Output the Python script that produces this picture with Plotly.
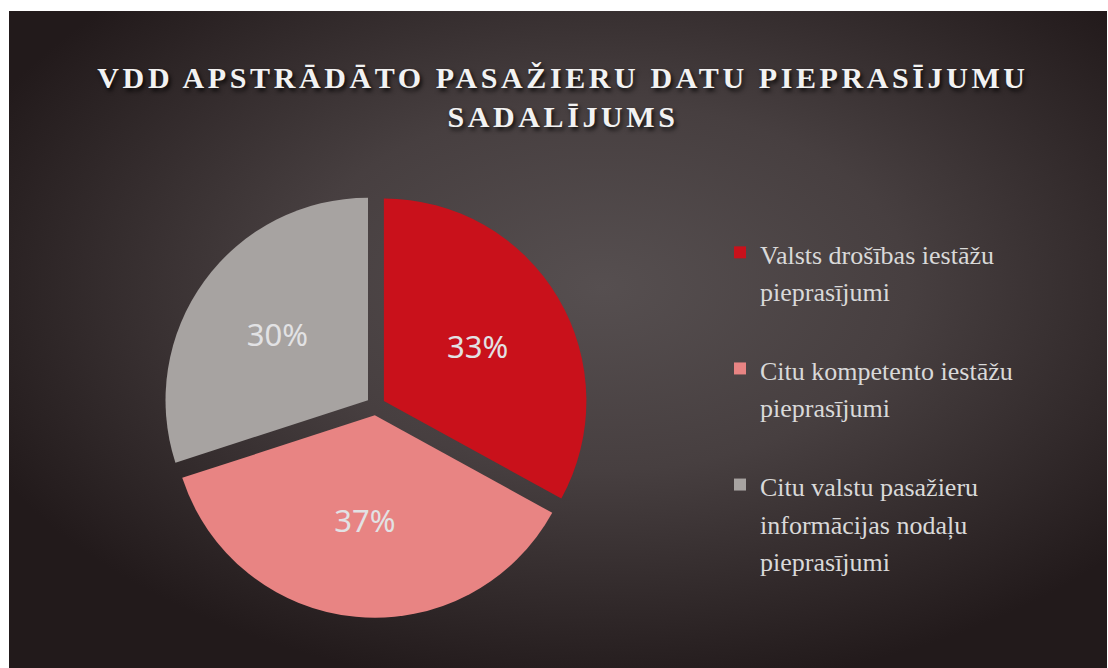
import base64
import plotly.graph_objects as go

# ---- data ----
categories = [
    "Valsts drošības iestāžu<br>pieprasījumi",
    "Citu kompetento iestāžu<br>pieprasījumi",
    "Citu valstu pasažieru<br>informācijas nodaļu<br>pieprasījumi",
]
values = [33, 37, 30]
slice_colors = ["#c9111b", "#e88483", "#a7a3a1"]
title_text = "VDD APSTRĀDĀTO PASAŽIERU DATU PIEPRASĪJUMU<br>SADALĪJUMS"

W, H = 1108, 668

# legend entries: a blank trailing line gives the gap between entries
legend_labels = [
    "<span style='font-size:26px'>" + c + "</span>" + ("<br> " if i < len(categories) - 1 else "")
    for i, c in enumerate(categories)
]

# background: radial gradient panel (styling only)
svg = (
    "<svg xmlns='http://www.w3.org/2000/svg' width='1098' height='657' "
    "viewBox='0 0 1098 657' preserveAspectRatio='none'>"
    "<defs><radialGradient id='g' cx='0.54' cy='0.42' r='0.62'>"
    "<stop offset='0' stop-color='#564f50'/>"
    "<stop offset='0.45' stop-color='#473f40'/>"
    "<stop offset='1' stop-color='#221a1b'/>"
    "</radialGradient></defs>"
    "<rect x='0' y='0' width='1098' height='657' fill='url(#g)'/></svg>"
)
bg_src = "data:image/svg+xml;base64," + base64.b64encode(svg.encode()).decode()

cx, cy, box = 375.7, 405.8, 424.0
dom_x = [(cx - box / 2) / W, (cx + box / 2) / W]
dom_y = [(H - cy - box / 2) / H, (H - cy + box / 2) / H]

fig = go.Figure(
    go.Pie(
        labels=legend_labels,
        values=values,
        sort=False,
        direction="clockwise",
        rotation=0,
        pull=[0.047, 0.047, 0.047],
        marker=dict(colors=slice_colors, line=dict(width=0)),
        texttemplate="%{percent:.0%}",
        textposition="inside",
        insidetextorientation="horizontal",
        textfont=dict(family="Noto Sans", size=31, color="#e2e2e4"),
        domain=dict(x=dom_x, y=dom_y),
        hoverinfo="percent",
    )
)

fig.update_layout(
    width=W,
    height=H,
    margin=dict(l=0, r=0, t=0, b=0),
    paper_bgcolor="white",
    plot_bgcolor="rgba(0,0,0,0)",
    images=[
        dict(
            source=bg_src,
            xref="paper", yref="paper",
            x=9 / W, y=1 - 11 / H,
            sizex=(1107 - 9) / W, sizey=(H - 11) / H,
            xanchor="left", yanchor="top",
            sizing="stretch",
            layer="below",
        )
    ],
    title=dict(
        text=title_text,
        x=563 / W,
        xanchor="center",
        y=1 - 88 / H,
        yanchor="top",
        font=dict(
            family="Liberation Serif",
            size=30,
            weight="bold",
            color="#f2f2f2",
            shadow="2px 3px 4px rgba(0,0,0,0.8)",
        ),
    ),
    legend=dict(
        x=720 / W,
        xanchor="left",
        y=1 - 227 / H,
        yanchor="top",
        valign="top",
        bgcolor="rgba(0,0,0,0)",
        font=dict(family="Liberation Serif", size=29, color="#d9d9d9"),
    ),
    showlegend=True,
)

post = """
document.body.style.margin = '0';
document.querySelectorAll('.gtitle').forEach(function(el){ el.style.letterSpacing = '3.6px'; });
"""

fig.write_html("out.html", post_script=post, config={"displayModeBar": False})
